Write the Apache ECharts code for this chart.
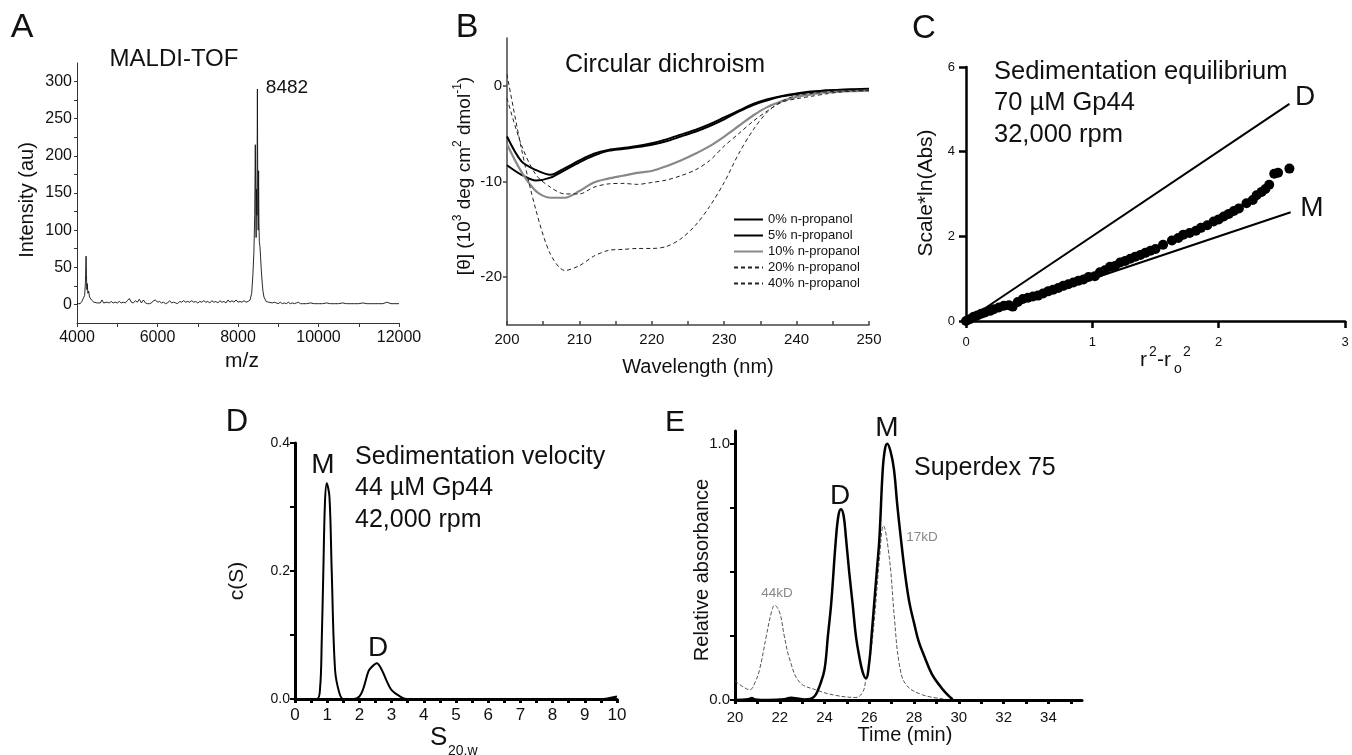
<!DOCTYPE html>
<html><head><meta charset="utf-8">
<script src="https://cdn.jsdelivr.net/npm/echarts@6/dist/echarts.min.js"></script>
<style>html,body{margin:0;padding:0;background:#fff}#c{width:1352px;height:755px}</style>
</head><body><div id="c"></div>
<script>
const FONT = "'Liberation Sans', Arial, Helvetica, sans-serif";

// ---------- Panel A: MALDI-TOF ----------
const maldiMz = [4000,4040,4080,4120,4160,4190,4210,4225,4235,4245,4255,4270,4290,4310,4330,4360,4390,4420,4460,4500,4540,4580,4620,4660,4700,4750,4800,4850,4900,4950,5000,5050,5100,5150,5200,5250,5300,5350,5400,5450,5500,5550,5600,5650,5700,5750,5800,5850,5900,5950,6000,6050,6100,6150,6200,6250,6300,6350,6400,6450,6500,6550,6600,6650,6700,6750,6800,6850,6900,6950,7000,7050,7100,7150,7200,7250,7300,7350,7400,7450,7500,7550,7600,7650,7700,7750,7800,7850,7900,7950,8000,8050,8100,8150,8200,8250,8300,8340,8370,8395,8415,8430,8440,8450,8460,8470,8482,8492,8502,8512,8520,8530,8545,8560,8580,8600,8620,8645,8670,8700,8730,8760,8800,8850,8900,8950,9000,9050,9100,9150,9200,9250,9300,9350,9400,9450,9500,9550,9600,9700,9800,9900,10000,10100,10200,10300,10400,10500,10600,10700,10800,10900,11000,11100,11200,11300,11400,11500,11600,11700,11800,11900,12000];
const maldiIntensity = [1,3,1,4,2,12,30,65,40,20,28,15,18,10,12,6,8,3,5,2,4,2,6,2,4,3,2,4,2,3,2,4,2,3,2,5,8,3,2,5,3,7,2,6,2,1,1,2,5,6,3,4,2,3,1,2,5,2,3,2,1,4,3,5,3,4,3,5,3,4,2,4,3,5,3,4,2,5,3,4,2,5,3,4,2,6,3,5,3,6,3,4,3,5,3,4,6,15,40,70,120,215,150,90,155,120,290,140,100,180,110,85,78,65,45,30,18,10,8,4,5,3,4,2,3,2,1,3,1,2,1,3,1,2,1,2,3,1,1,1,2,1,1,1,2,1,1,1,2,1,1,1,1,2,1,1,1,1,1,3,1,1,1];

// ---------- Panel B: Circular dichroism ----------
const cdWavelength = [200,202,204,206,208,210,212,214,216,218,220,222,224,226,228,230,232,234,236,238,240,242,244,246,248,250];
const cdNames = ['0% n-propanol','5% n-propanol','10% n-propanol','20% n-propanol','40% n-propanol'];
const cd0  = [-5.3,-7.9,-8.8,-9.3,-8.6,-7.8,-7.1,-6.7,-6.5,-6.3,-6.0,-5.6,-5.1,-4.6,-4.0,-3.3,-2.6,-1.9,-1.4,-1.05,-0.8,-0.6,-0.5,-0.4,-0.35,-0.3];
const cd5  = [-8.3,-9.3,-9.9,-9.6,-8.8,-8.0,-7.3,-6.8,-6.6,-6.4,-6.15,-5.8,-5.3,-4.8,-4.2,-3.5,-2.7,-2.0,-1.5,-1.1,-0.85,-0.65,-0.5,-0.45,-0.4,-0.4];
const cd10 = [-6.1,-9.0,-11.0,-11.7,-11.7,-11.0,-10.1,-9.7,-9.4,-9.1,-8.9,-8.4,-7.8,-7.1,-6.3,-5.3,-4.2,-3.1,-2.2,-1.6,-1.15,-0.9,-0.7,-0.6,-0.55,-0.5];
const cd20 = [-1.3,-6.2,-9.3,-10.6,-11.3,-11.3,-10.6,-10.25,-10.2,-10.3,-10.1,-9.85,-9.4,-8.8,-7.8,-6.3,-5.0,-3.7,-2.6,-1.7,-1.35,-1.1,-0.85,-0.65,-0.55,-0.5];
const cd40 = [1.2,-6.6,-13.0,-17.6,-19.3,-18.8,-17.8,-17.2,-17.1,-17.0,-17.0,-16.8,-16.0,-14.6,-12.6,-10.1,-7.1,-4.6,-2.7,-1.6,-1.0,-0.8,-0.65,-0.55,-0.5,-0.5];

// ---------- Panel C: Sedimentation equilibrium ----------
const seqX = [0,0.03,0.06,0.09,0.12,0.15,0.19,0.22,0.26,0.3,0.34,0.37,0.41,0.45,0.49,0.53,0.57,0.61,0.65,0.69,0.73,0.77,0.81,0.85,0.89,0.93,0.97,1.02,1.06,1.1,1.14,1.18,1.22,1.26,1.3,1.34,1.38,1.42,1.46,1.5,1.56,1.63,1.68,1.72,1.77,1.82,1.86,1.91,1.96,2.0,2.04,2.08,2.12,2.16,2.22,2.27,2.3,2.34,2.37,2.4,2.44,2.47,2.56];
const seqY = [0,0.04,0.1,0.13,0.17,0.2,0.24,0.28,0.32,0.36,0.37,0.34,0.45,0.52,0.55,0.58,0.6,0.65,0.7,0.74,0.78,0.83,0.87,0.91,0.95,0.98,1.04,1.06,1.15,1.2,1.28,1.3,1.38,1.42,1.47,1.52,1.56,1.61,1.66,1.7,1.8,1.9,1.96,2.04,2.08,2.13,2.2,2.26,2.35,2.4,2.47,2.53,2.6,2.66,2.78,2.86,2.97,3.05,3.12,3.22,3.48,3.5,3.6];
const dimerLineX = [0, 2.56];
const dimerLineY = [0, 5.13];
const monomerLineX = [0, 2.57];
const monomerLineY = [0, 2.57];

// ---------- Panel D: Sedimentation velocity ----------
const svS = [0,0.68,0.78,0.83,0.88,0.93,0.985,1.07,1.14,1.245,1.38,1.5,1.81,2.0,2.12,2.28,2.38,2.54,2.7,2.85,3.0,3.26,3.47,9.48,10.0];
const svC = [0,0,0.018,0.09,0.2,0.306,0.337,0.316,0.2,0.045,0.009,0,0,0.004,0.016,0.043,0.05,0.056,0.045,0.028,0.014,0.004,0,0,0.004];

// ---------- Panel E: Superdex 75 ----------
const secTime = [20.0,20.6,20.75,20.9,21.5,22.2,22.5,22.8,23.1,23.4,23.6,23.8,24.0,24.15,24.3,24.5,24.62,24.73,24.85,24.96,25.1,25.26,25.4,25.55,25.7,25.85,26.0,26.1,26.22,26.35,26.45,26.6,26.7,26.8,26.95,27.1,27.25,27.41,27.6,27.79,28.0,28.2,28.46,28.8,29.2,29.5,29.72];
const secAbs  = [0.0,0.003,0.008,0.002,0.0,0.003,0.009,0.006,0.002,0.005,0.02,0.06,0.12,0.25,0.38,0.62,0.72,0.745,0.72,0.63,0.5,0.37,0.25,0.17,0.11,0.085,0.15,0.25,0.38,0.52,0.63,0.9,0.98,1.0,0.97,0.9,0.76,0.63,0.49,0.38,0.3,0.23,0.17,0.1,0.05,0.02,0.003];
const stdTime = [20.0,20.3,20.66,20.9,21.1,21.4,21.62,21.77,22.0,22.2,22.44,22.88,23.6,24.5,25.4,25.7,25.85,26.0,26.23,26.45,26.63,26.9,27.12,27.34,27.64,28.38,29.3];
const stdAbs  = [0.075,0.055,0.04,0.07,0.12,0.25,0.34,0.37,0.34,0.25,0.16,0.07,0.04,0.018,0.01,0.03,0.08,0.14,0.32,0.55,0.68,0.55,0.32,0.14,0.06,0.02,0.005];

const zip = (xs, ys) => xs.map((x, i) => [x, ys[i]]);
const range = (a, b, s) => { const r = []; for (let v = a; v <= b + 1e-9; v += s) r.push(+v.toFixed(6)); return r; };

const chart = echarts.init(document.getElementById('c'), null, {renderer: 'canvas'});

function ax(o) {
  return {
    gridIndex: o.g, type: 'value', min: o.min, max: o.max,
    axisLine: {show: true, onZero: false, lineStyle: {color: o.color, width: o.lw}},
    axisTick: {show: true, customValues: o.ticks, length: o.tl, inside: !!o.inside, lineStyle: {color: o.color, width: o.tw || o.lw}},
    axisLabel: {customValues: o.labels, fontSize: o.fs, color: '#111', fontFamily: FONT, margin: o.margin, formatter: o.fmt || (v => String(v))},
    splitLine: {show: false}
  };
}

function txt(text, x, y, fs, opts) {
  opts = opts || {};
  return {
    type: 'text', x: x, y: y, rotation: opts.rot || 0, silent: true,
    style: {
      text: text, fontSize: fs, fontFamily: FONT, fill: opts.color || '#111',
      align: opts.align || 'center', verticalAlign: 'middle',
      textAlign: opts.align || 'center', textVerticalAlign: 'middle',
      rich: opts.rich
    }
  };
}

const f1 = v => v.toFixed(1);

const option = {
  backgroundColor: '#fff',
  animation: false,
  grid: [
    {left: 77, top: 63, width: 322, height: 260},
    {left: 507, top: 38, width: 362, height: 287},
    {left: 966, top: 67, width: 379, height: 254},
    {left: 295, top: 443, width: 322, height: 256},
    {left: 735, top: 431, width: 347, height: 269}
  ],
  xAxis: [
    ax({g:0, min:4000, max:12000, color:'#333', lw:1, ticks: range(4000,12000,1000), labels: range(4000,12000,2000), tl:4, fs:16, margin:7}),
    ax({g:1, min:200, max:250, color:'#444', lw:1.5, ticks: range(200,250,5), labels: range(200,250,10), tl:4, inside:true, fs:15, margin:7}),
    ax({g:2, min:0, max:3, color:'#000', lw:2.5, ticks:[0,1,2,3], labels:[0,1,2,3], tl:7, fs:13, margin:15}),
    ax({g:3, min:0, max:10, color:'#000', lw:3, ticks: range(0,10,0.5), labels: range(0,10,1), tl:4, fs:17, margin:8}),
    ax({g:4, min:20, max:35.5, color:'#000', lw:3, ticks: range(20,35,1), labels: range(20,34,2), tl:4, fs:15, margin:10})
  ],
  yAxis: [
    ax({g:0, min:-25, max:325, color:'#333', lw:1, ticks: range(0,300,25), labels: range(0,300,50), tl:3, fs:16, margin:5}),
    ax({g:1, min:-25, max:5, color:'#444', lw:1.5, ticks:[0,-10,-20], labels:[0,-10,-20], tl:4, fs:15, margin:5}),
    ax({g:2, min:0, max:6, color:'#000', lw:2.5, ticks:[0,2,4,6], labels:[0,2,4,6], tl:7, fs:13, margin:11}),
    ax({g:3, min:0, max:0.4, color:'#000', lw:3, tw:2, ticks:[0,0.1,0.2,0.3,0.4], labels:[0,0.2,0.4], tl:5, fs:14, margin:5, fmt:f1}),
    ax({g:4, min:0, max:1.05, color:'#000', lw:3, tw:2, ticks:[0,0.25,0.5,0.75,1], labels:[0,1], tl:5, fs:15, margin:5, fmt:f1})
  ],
  legend: {
    orient: 'vertical', left: 733, top: 213, padding: 0, itemWidth: 29, itemHeight: 14, itemGap: 3,
    selectedMode: false, itemStyle: {opacity: 0},
    textStyle: {fontSize: 13, fontFamily: FONT, color: '#111'},
    data: cdNames
  },
  series: [
    {type:'line', xAxisIndex:0, yAxisIndex:0, data: zip(maldiMz, maldiIntensity), symbol:'none', lineStyle:{color:'#111', width:0.9}},
    {type:'line', name: cdNames[0], xAxisIndex:1, yAxisIndex:1, data: zip(cdWavelength, cd0), symbol:'none', smooth:0.3, color:'#000', lineStyle:{color:'#000', width:2}},
    {type:'line', name: cdNames[1], xAxisIndex:1, yAxisIndex:1, data: zip(cdWavelength, cd5), symbol:'none', smooth:0.3, color:'#000', lineStyle:{color:'#000', width:2}},
    {type:'line', name: cdNames[2], xAxisIndex:1, yAxisIndex:1, data: zip(cdWavelength, cd10), symbol:'none', smooth:0.3, color:'#888', lineStyle:{color:'#888', width:2.2}},
    {type:'line', name: cdNames[3], xAxisIndex:1, yAxisIndex:1, data: zip(cdWavelength, cd20), symbol:'none', smooth:0.3, color:'#222', lineStyle:{color:'#222', width:1, type:[4,3]}},
    {type:'line', name: cdNames[4], xAxisIndex:1, yAxisIndex:1, data: zip(cdWavelength, cd40), symbol:'none', smooth:0.3, color:'#222', lineStyle:{color:'#222', width:1, type:[4,3]}},
    {type:'line', xAxisIndex:2, yAxisIndex:2, data: zip(dimerLineX, dimerLineY), symbol:'none', lineStyle:{color:'#000', width:2}},
    {type:'line', xAxisIndex:2, yAxisIndex:2, data: zip(monomerLineX, monomerLineY), symbol:'none', lineStyle:{color:'#000', width:2}},
    {type:'scatter', xAxisIndex:2, yAxisIndex:2, data: zip(seqX, seqY), symbolSize:10, clip:false, itemStyle:{color:'#000', opacity:1}},
    {type:'line', xAxisIndex:3, yAxisIndex:3, data: zip(svS, svC), symbol:'none', smooth:0.35, lineStyle:{color:'#000', width:2}},
    {type:'line', xAxisIndex:4, yAxisIndex:4, data: zip(stdTime, stdAbs), symbol:'none', smooth:0.4, lineStyle:{color:'#555', width:1, type:[4,2]}},
    {type:'line', xAxisIndex:4, yAxisIndex:4, data: zip(secTime, secAbs), symbol:'none', smooth:0.4, lineStyle:{color:'#000', width:2.5}}
  ],
  graphic: [
    // panel letters
    txt('A', 22, 28, 34), txt('B', 467, 28, 34), txt('C', 924, 29, 33),
    txt('D', 237, 422, 31), txt('E', 675, 423, 30),
    // A
    txt('MALDI-TOF', 174, 59, 24),
    txt('8482', 287, 88, 19),
    txt('Intensity (au)', 27, 200, 20, {rot: Math.PI/2}),
    txt('m/z', 242, 361, 21),
    // B
    txt('Circular dichroism', 665, 65, 25),
    txt('[θ] (10{sup|3} deg cm{sup|2} dmol{sup|-1})', 465, 176, 19, {rot: Math.PI/2,
      rich: {sup: {fontSize: 12, fontFamily: FONT, verticalAlign: 'top', lineHeight: 26}}}),
    txt('Wavelength (nm)', 698, 367, 20),
    // C
    txt('Sedimentation equilibrium', 994, 72, 25.5, {align:'left'}),
    txt('70 µM Gp44', 994, 103, 25.5, {align:'left'}),
    txt('32,000 rpm', 994, 135, 25.5, {align:'left'}),
    txt('D', 1305, 97, 28), txt('M', 1312, 208, 28),
    txt('Scale*ln(Abs)', 926, 193, 21, {rot: Math.PI/2}),
    txt('r', 1140, 360, 21, {align:'left'}), txt('2', 1149, 352, 14, {align:'left'}),
    txt('-r', 1157, 360, 21, {align:'left'}), txt('o', 1174, 369, 14, {align:'left'}),
    txt('2', 1183, 352, 14, {align:'left'}),
    // D
    txt('Sedimentation velocity', 355, 457, 25, {align:'left'}),
    txt('44 µM Gp44', 355, 488, 25, {align:'left'}),
    txt('42,000 rpm', 355, 520, 25, {align:'left'}),
    txt('M', 323, 465, 28), txt('D', 378, 648, 28),
    txt('c(S)', 237, 581, 21, {rot: Math.PI/2}),
    txt('S', 430, 738, 26, {align:'left'}), txt('20,w', 448, 751, 14, {align:'left'}),
    // E
    txt('Superdex 75', 914, 468, 25, {align:'left'}),
    txt('D', 840, 496, 28), txt('M', 887, 428, 28),
    txt('44kD', 777, 593, 13.5, {color:'#888'}), txt('17kD', 922, 537, 13.5, {color:'#888'}),
    txt('Relative absorbance', 702, 570, 20, {rot: Math.PI/2}),
    txt('Time (min)', 905, 735, 20)
  ]
};
chart.setOption(option);
</script>
</body></html>
